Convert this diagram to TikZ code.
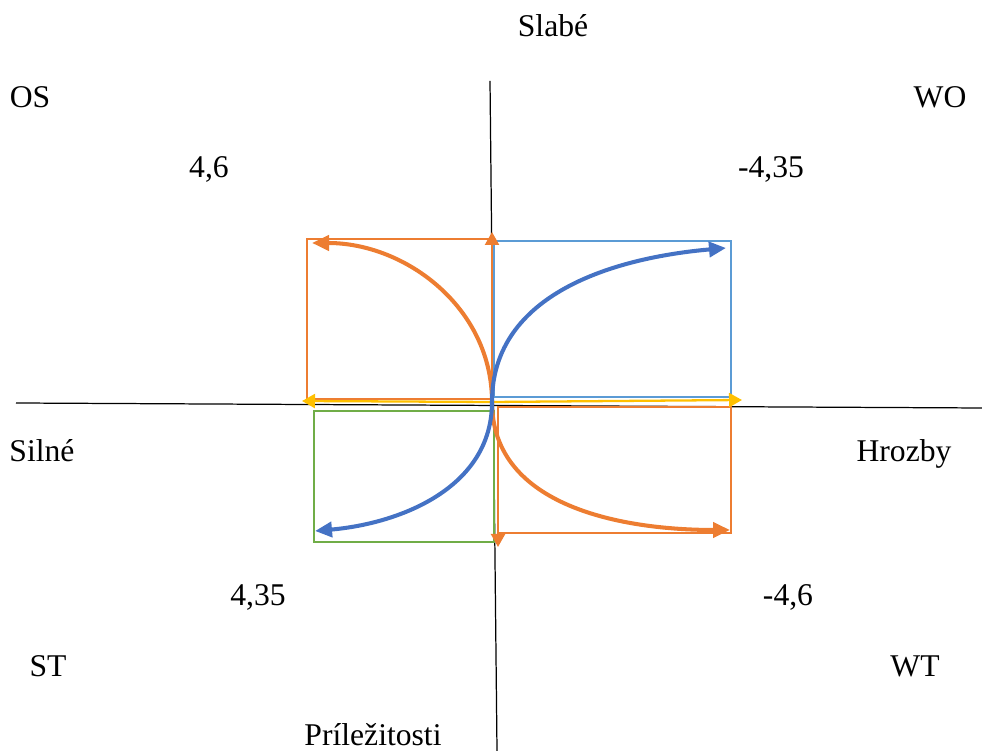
\documentclass[tikz,border=0pt]{standalone}
\usepackage{fontspec}
\setmainfont{Liberation Serif}
\usepackage{tikz}
\usetikzlibrary{arrows.meta,positioning,calc}

\definecolor{offorange}{HTML}{ED7D31}
\definecolor{offblue}{HTML}{4472C4}
\definecolor{offlblue}{HTML}{5B9BD5}
\definecolor{offgreen}{HTML}{70AD47}
\definecolor{offyellow}{HTML}{FFC000}

\begin{document}
\begin{tikzpicture}[
    lbl/.style={anchor=base, inner sep=0pt, font=\fontsize{18}{22}\selectfont},
    quad/.style={draw, line width=1.4pt},
    axisline/.style={draw=black, line width=0.7pt},
    curvearrow/.style={line width=2.3pt, -{Triangle[length=0.34cm,width=0.3cm]}},
    linearrow/.style={line width=1.3pt, -{Triangle[length=0.26cm,width=0.28cm]}}
]
    \useasboundingbox (0,0) rectangle (19.64,15.02);

    % axes
    \coordinate (w) at (0.32,6.96);
    \coordinate (e) at (19.64,6.86);
    \coordinate (n) at (9.80,13.40);
    \coordinate (s) at (9.94,0);
    \draw[axisline] (w) -- (e);
    \draw[axisline] (n) -- (s);

    % labels
    \node[lbl] (slabe) at (11.06,14.28) {Slabé};
    \node[lbl] (os) at (0.60,12.86) {OS};
    \node[lbl] (wo) at (18.80,12.86) {WO};
    \node[lbl] (vos) at (4.18,11.46) {4,6};
    \node[lbl] (vwo) at (15.42,11.46) {-4,35};
    \node[lbl] (silne) at (0.84,5.78) {Silné};
    \node[lbl] (hrozby) at (18.08,5.78) {Hrozby};
    \node[lbl] (vst) at (5.16,2.90) {4,35};
    \node[lbl] (vwt) at (15.76,2.90) {-4,6};
    \node[lbl] (st) at (0.96,1.48) {ST};
    \node[lbl] (wt) at (18.30,1.48) {WT};
    \node[lbl] (prilez) at (7.46,0.10) {Príležitosti};

    % quadrant boxes
    \draw[quad, offorange] (6.14,7.04) rectangle (9.84,10.24);
    \draw[quad, offlblue] (9.88,7.08) rectangle (14.62,10.20);
    \draw[quad, offgreen] (6.28,4.18) rectangle (9.88,6.80);
    \draw[quad, offorange] (9.96,4.36) rectangle (14.62,6.88);

    % straight arrows
    \coordinate (c) at (9.84,6.98);
    \coordinate (cd) at (9.96,6.86);
    \coordinate (yl) at (6.04,7.00);
    \coordinate (yr) at (14.84,7.02);
    \coordinate (ou) at (9.84,10.38);
    \coordinate (od) at (9.96,4.08);
    \draw[linearrow, offyellow] (c) -- (yl);
    \draw[linearrow, offyellow] (c) -- (yr);
    \draw[linearrow, offorange] (c) -- (ou);
    \draw[linearrow, offorange] (cd) -- (od);

    % curves
    \coordinate (otl) at (6.24,10.16);
    \coordinate (obr) at (14.60,4.42);
    \coordinate (btr) at (14.52,10.06);
    \coordinate (bbl) at (6.30,4.40);
    \draw[curvearrow, offorange] (c) to[out=90, in=0] (otl);
    \draw[curvearrow, offorange] (c) to[out=-90, in=180] (obr);
    \draw[curvearrow, offblue] (c) to[out=90, in=185] (btr);
    \draw[curvearrow, offblue] (c) to[out=-90, in=5] (bbl);
\end{tikzpicture}
\end{document}
